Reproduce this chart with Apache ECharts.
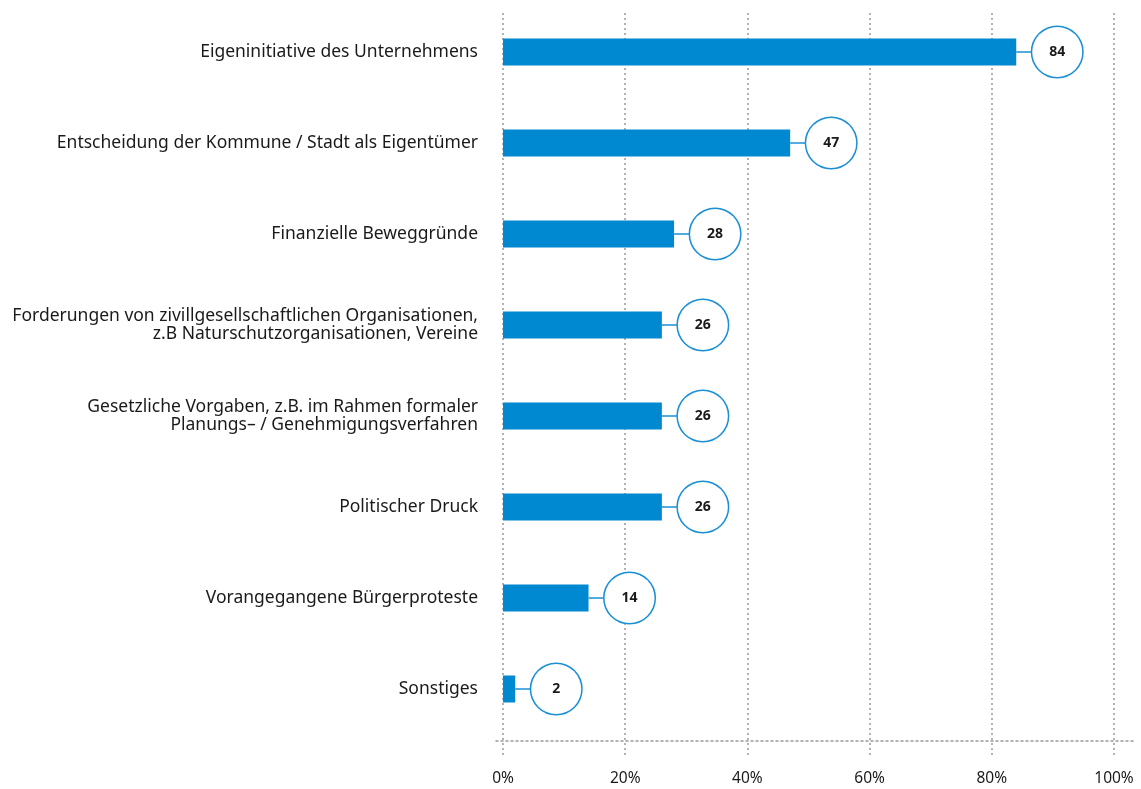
<!DOCTYPE html>
<html>
<head>
<meta charset="utf-8">
<script src="https://cdn.jsdelivr.net/npm/echarts@6/dist/echarts.min.js"></script>
<style>
  html, body { margin: 0; padding: 0; background: #fff; }
  #chart { width: 1141px; height: 789px; }
</style>
</head>
<body>
<div id="chart"></div>
<script>
// Kategorien (von oben nach unten)
const categories = [
  'Eigeninitiative des Unternehmens',
  'Entscheidung der Kommune / Stadt als Eigentümer',
  'Finanzielle Beweggründe',
  'Forderungen von zivillgesellschaftlichen Organisationen,\nz.B Naturschutzorganisationen, Vereine',
  'Gesetzliche Vorgaben, z.B. im Rahmen formaler\nPlanungs– / Genehmigungsverfahren',
  'Politischer Druck',
  'Vorangegangene Bürgerproteste',
  'Sonstiges'
]
// Anteile in %
const values = [84, 47, 28, 26, 26, 26, 14, 2]
const xTicks = [0, 20, 40, 60, 80, 100]

const blue = '#0088d1'
const ring = '#1a8fd6'
const textColor = '#1a1a1a'
const fontFamily = '"Noto Sans", sans-serif'
const dotted = { color: '#999', width: 1.5, type: [2, 3] }

const chart = echarts.init(document.getElementById('chart'))

chart.setOption({
  animation: false,
  grid: [
    // Balken
    { left: 503, right: 27, top: 6.5, bottom: 54.5 },
    // Gitterlinien + Achsenbeschriftung
    { left: 503, right: 27, top: 13, bottom: 34 },
    // horizontale Grundlinie (etwas breiter)
    { left: 496, right: 6, top: 6.5, bottom: 48 }
  ],
  xAxis: [
    {
      gridIndex: 0,
      type: 'value',
      min: 0,
      max: 100,
      interval: 20,
      show: false
    },
    {
      gridIndex: 1,
      type: 'value',
      min: xTicks[0],
      max: xTicks[xTicks.length - 1],
      interval: 20,
      axisLine: { show: false },
      axisTick: { show: false },
      axisLabel: {
        formatter: '{value}%',
        margin: 16,
        fontSize: 15.5,
        color: textColor,
        fontFamily: fontFamily
      },
      splitLine: { show: true, lineStyle: dotted }
    },
    {
      gridIndex: 2,
      type: 'value',
      min: 0,
      max: 100,
      axisLine: { show: true, lineStyle: dotted },
      axisTick: { show: false },
      axisLabel: { show: false },
      splitLine: { show: false }
    }
  ],
  yAxis: [
    {
      gridIndex: 0,
      type: 'category',
      data: categories,
      inverse: true,
      axisLine: { show: false },
      axisTick: { show: false },
      axisLabel: {
        margin: 25,
        fontSize: 17.5,
        lineHeight: 18.5,
        color: textColor,
        fontFamily: fontFamily,
        align: 'right'
      }
    },
    {
      gridIndex: 1,
      type: 'category',
      data: categories,
      show: false
    },
    {
      gridIndex: 2,
      type: 'category',
      data: categories,
      show: false
    }
  ],
  series: [{
    type: 'bar',
    xAxisIndex: 0,
    yAxisIndex: 0,
    data: values,
    barWidth: 27,
    itemStyle: { color: blue },
    label: {
      show: true,
      position: 'right',
      distance: 0,
      formatter: '{l|}{c|{c}}',
      rich: {
        l: { width: 16, height: 1.5, backgroundColor: ring },
        c: {
          width: 50,
          height: 50,
          lineHeight: 50,
          align: 'center',
          borderRadius: 26,
          borderColor: ring,
          borderWidth: 1.5,
          backgroundColor: '#fff',
          color: textColor,
          fontSize: 14,
          fontWeight: 'bold',
          fontFamily: fontFamily
        }
      }
    }
  }]
})
</script>
</body>
</html>
